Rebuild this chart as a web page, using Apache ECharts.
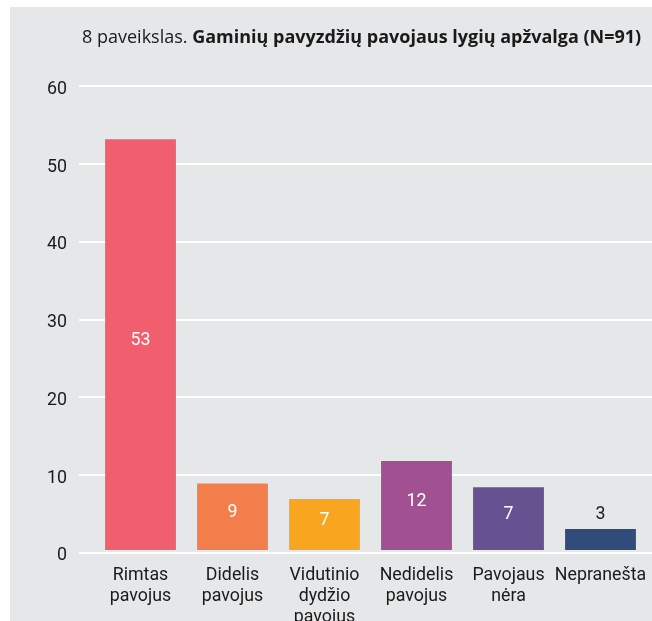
<!DOCTYPE html>
<html>
<head>
<meta charset="utf-8">
<script src="https://cdn.jsdelivr.net/npm/echarts@6/dist/echarts.min.js"></script>
<style>
html,body{margin:0;padding:0;background:#ffffff;}
#bg{position:absolute;left:10px;top:7px;width:642px;height:614px;background:#e6e7e9;}
#chart{position:absolute;left:0;top:0;width:652px;height:621px;}
</style>
</head>
<body>
<div id="bg"></div>
<div id="chart"></div>
<script>
const titlePrefix = '8 paveikslas. ';
const titleBold = 'Gaminių pavyzdžių pavojaus lygių apžvalga (N=91)';
const categories = ['Rimtas\npavojus', 'Didelis\npavojus', 'Vidutinio\ndydžio\npavojus', 'Nedidelis\npavojus', 'Pavojaus\nnėra', 'Nepranešta'];
// bar heights as drawn in the picture
const barHeights = [53.1, 8.6, 6.6, 11.5, 8.1, 2.7];
// value labels as printed on the bars
const valueLabels = ['53', '9', '7', '12', '7', '3'];
const barColors = ['#f15e6d', '#f47e4b', '#f8a61f', '#a15092', '#665291', '#314c7b'];
const yTicks = [0, 10, 20, 30, 40, 50, 60];

const FONT = 'Roboto, "Noto Sans", sans-serif';
const TFONT = '"Open Sans", Roboto, sans-serif';
const FS = 17.8;
const chart = echarts.init(document.getElementById('chart'), null, {renderer: 'canvas'});
chart.setOption({
  backgroundColor: 'transparent',
  animation: false,
  textStyle: {fontFamily: FONT},
  title: {
    text: '{n|' + titlePrefix + '}{b|' + titleBold + '}',
    left: 82, top: 29, padding: 0,
    textStyle: {
      fontWeight: 'normal',
      rich: {
        n: {fontSize: 18, fontFamily: TFONT, fontWeight: 'normal', color: '#1a1a1a'},
        b: {fontSize: 18, fontFamily: TFONT, fontWeight: 'bold', color: '#1a1a1a'}
      }
    }
  },
  grid: [
    {left: 79, right: 0, top: 86, bottom: 68.5, outerBoundsMode: 'none', containLabel: false},
    {left: 94.5, right: 5.5, top: 86, bottom: 71, outerBoundsMode: 'none', containLabel: false}
  ],
  xAxis: [
    {type: 'category', gridIndex: 0, data: categories, show: false},
    {type: 'category', gridIndex: 1, data: categories,
     axisLine: {show: false}, axisTick: {show: false},
     axisLabel: {fontSize: FS, color: '#1a1a1a', margin: 15, lineHeight: 21, interval: 0, fontFamily: FONT, hideOverlap: false}}
  ],
  yAxis: [
    {type: 'value', gridIndex: 0, min: yTicks[0], max: yTicks[yTicks.length - 1], interval: 10,
     axisLine: {show: false}, axisTick: {show: false},
     axisLabel: {color: '#1a1a1a', margin: 12, formatter: '{a|{value}}',
       rich: {a: {fontSize: FS, fontFamily: FONT, color: '#1a1a1a', padding: [7, 0, 0, 0]}}},
     splitLine: {lineStyle: {color: '#ffffff', width: 2}}},
    {type: 'value', gridIndex: 1, min: yTicks[0], max: yTicks[yTicks.length - 1], interval: 10, show: false,
     splitLine: {show: false}}
  ],
  series: [{
    type: 'bar',
    xAxisIndex: 1, yAxisIndex: 1,
    barCategoryGap: '23%',
    data: barHeights.map((v, i) => ({
      value: v,
      itemStyle: {color: barColors[i]},
      label: i === barHeights.length - 1
        ? {show: true, position: 'top', distance: 6, color: '#1a1a1a'}
        : {show: true, position: 'inside', color: '#ffffff', offset: [0, -4]}
    })),
    label: {
      show: true, fontSize: FS, fontFamily: FONT,
      formatter: p => valueLabels[p.dataIndex]
    }
  }]
});
</script>
</body>
</html>
